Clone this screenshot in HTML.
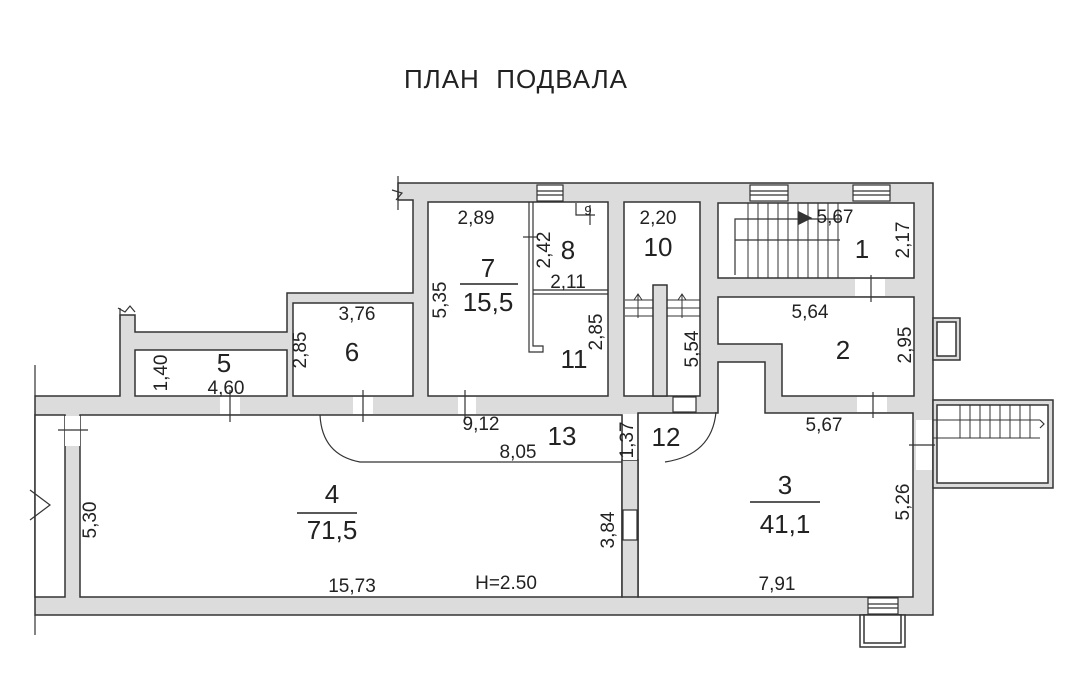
<!DOCTYPE html>
<html><head><meta charset="utf-8"><style>
body{margin:0;background:#fff;}
svg{display:block;font-family:"Liberation Sans",sans-serif;}
</style></head><body>
<svg width="1080" height="687" viewBox="0 0 1080 687" xmlns="http://www.w3.org/2000/svg">
<rect width="1080" height="687" fill="#fff"/>
<text x="516" y="88" font-size="26" text-anchor="middle" fill="#222" letter-spacing="1" xml:space="preserve">ПЛАН  ПОДВАЛА</text>
<g stroke="#333" stroke-width="1.5">
<path d="M398 183 H933 V615 H35 V396 H120 V315 H135 V332 H287 V293 H413 V200 H398 Z" fill="#dcdcdc"/>
<rect x="933" y="318" width="27" height="42" fill="#dcdcdc"/>
<rect x="937" y="322" width="19" height="34" fill="#fff"/>
<rect x="933" y="400" width="120" height="88" fill="#dcdcdc"/>
<rect x="937" y="405" width="111" height="78" fill="#fff"/>
<rect x="860" y="615" width="45" height="32" fill="#fff"/>
<rect x="864" y="615" width="37" height="28" fill="#fff"/>
<rect x="428" y="202" width="180" height="194" fill="#fff"/>
<rect x="624" y="202" width="76" height="194" fill="#fff"/>
<rect x="653" y="285" width="14" height="111" fill="#dcdcdc"/>
<rect x="718" y="203" width="196" height="75" fill="#fff"/>
<path d="M718 297 H914 V396 H782 V344 H718 Z" fill="#fff"/>
<path d="M638 413 H718 V362 H765 V413 H913 V597 H638 Z" fill="#fff"/>
<rect x="80" y="415" width="542" height="182" fill="#fff"/>
<rect x="293" y="303" width="120" height="93" fill="#fff"/>
<rect x="135" y="350" width="152" height="46" fill="#fff"/>
<rect x="35" y="415" width="30" height="182" fill="#fff"/>
<rect x="622" y="460" width="16" height="137" fill="#dcdcdc"/>
</g>
<g stroke="#333" stroke-width="1.2" fill="#fff">
<rect x="537" y="185" width="26" height="16"/><line x1="537" y1="191" x2="563" y2="191"/><line x1="537" y1="195" x2="563" y2="195"/>
<rect x="750" y="185" width="38" height="16"/><line x1="750" y1="191" x2="788" y2="191"/><line x1="750" y1="195" x2="788" y2="195"/>
<rect x="853" y="185" width="37" height="16"/><line x1="853" y1="191" x2="890" y2="191"/><line x1="853" y1="195" x2="890" y2="195"/>
<rect x="855" y="279" width="30" height="17" stroke="none"/><line x1="871" y1="275" x2="871" y2="302"/>
<rect x="857" y="397" width="30" height="15" stroke="none"/><line x1="873" y1="392" x2="873" y2="418"/>
<rect x="673" y="397" width="23" height="15"/>
<rect x="916" y="420" width="16" height="50" stroke="none"/><line x1="909" y1="445" x2="935" y2="445"/>
<rect x="868" y="598" width="30" height="16"/><line x1="868" y1="604" x2="898" y2="604"/><line x1="868" y1="608" x2="898" y2="608"/>
<rect x="458" y="397" width="18" height="17" stroke="none"/><line x1="465" y1="390" x2="465" y2="420"/>
<rect x="353" y="397" width="20" height="17" stroke="none"/><line x1="363" y1="390" x2="363" y2="422"/>
<rect x="220" y="397" width="20" height="17" stroke="none"/><line x1="230" y1="390" x2="230" y2="422"/>
<rect x="65" y="416" width="15" height="30" stroke="none"/><line x1="58" y1="430" x2="88" y2="430"/>
<rect x="623" y="510" width="14" height="30"/>
<rect x="623" y="414" width="14" height="46" stroke="none"/>
</g>
<g stroke="#333" stroke-width="1.2" fill="none">
<line x1="638" y1="413" x2="638" y2="460"/>
<path d="M320 415 Q322 455 360 462 H622"/>
<path d="M716 412 Q712 455 665 462"/>
<path d="M529 202 V352 H543 V346 H533 V202"/>
<line x1="533" y1="290" x2="608" y2="290"/><line x1="533" y1="294" x2="608" y2="294"/>
<line x1="523" y1="237" x2="538" y2="237"/>
<path d="M576 203 V215 H595"/><line x1="590" y1="205" x2="590" y2="225"/>
<path d="M735 275 V219 H840"/><path d="M735 240 H840"/>
<g stroke-width="1">
<line x1="748" y1="203" x2="748" y2="278"/><line x1="758" y1="203" x2="758" y2="278"/><line x1="768" y1="203" x2="768" y2="278"/><line x1="778" y1="203" x2="778" y2="278"/><line x1="788" y1="203" x2="788" y2="278"/><line x1="798" y1="203" x2="798" y2="278"/><line x1="808" y1="203" x2="808" y2="278"/><line x1="818" y1="203" x2="818" y2="278"/><line x1="828" y1="203" x2="828" y2="278"/><line x1="838" y1="203" x2="838" y2="278"/>
<line x1="625" y1="300" x2="653" y2="300"/><line x1="625" y1="308" x2="653" y2="308"/><line x1="625" y1="316" x2="653" y2="316"/>
<line x1="667" y1="300" x2="700" y2="300"/><line x1="667" y1="308" x2="700" y2="308"/><line x1="667" y1="316" x2="700" y2="316"/>
<path d="M638 318 V294 M634 300 L638 294 L642 300"/><path d="M682 318 V294 M678 300 L682 294 L686 300"/>
<line x1="933" y1="420" x2="1040" y2="420"/><line x1="933" y1="438" x2="1040" y2="438"/>
<line x1="960" y1="405" x2="960" y2="438"/><line x1="970" y1="405" x2="970" y2="438"/><line x1="980" y1="405" x2="980" y2="438"/><line x1="990" y1="405" x2="990" y2="438"/><line x1="1000" y1="405" x2="1000" y2="438"/><line x1="1010" y1="405" x2="1010" y2="438"/><line x1="1020" y1="405" x2="1020" y2="438"/><line x1="1030" y1="405" x2="1030" y2="438"/>
</g>
<path d="M799 212 L811 218 L799 224 Z" fill="#333"/>
<path d="M398 176 V210 M392 190 L402 193 L396 200"/>
<path d="M118 308 L125 312 L130 306 L135 312 M120 308 V320"/>
<path d="M35 365 V396 M35 615 V635 M30 490 L50 505 L30 520"/>
<path d="M1040 420 L1044 424 L1040 428"/>
</g>
<g fill="#222" font-size="19" text-anchor="middle">
<text x="476" y="224">2,89</text>
<text x="835" y="223">5,67</text>
<text x="658" y="224">2,20</text>
<text x="568" y="288">2,11</text>
<text x="357" y="320">3,76</text>
<text x="810" y="318">5,64</text>
<text x="226" y="394">4,60</text>
<text x="481" y="430">9,12</text>
<text x="518" y="458">8,05</text>
<text x="824" y="431">5,67</text>
<text x="352" y="592">15,73</text>
<text x="506" y="589">H=2.50</text>
<text x="777" y="590">7,91</text>
<text transform="translate(446 300) rotate(-90)">5,35</text>
<text transform="translate(550 250) rotate(-90)">2,42</text>
<text transform="translate(602 332) rotate(-90)">2,85</text>
<text transform="translate(306 350) rotate(-90)">2,85</text>
<text transform="translate(167 373) rotate(-90)">1,40</text>
<text transform="translate(698 349) rotate(-90)">5,54</text>
<text transform="translate(909 240) rotate(-90)">2,17</text>
<text transform="translate(911 345) rotate(-90)">2,95</text>
<text transform="translate(633 440) rotate(-90)">1,37</text>
<text transform="translate(614 530) rotate(-90)">3,84</text>
<text transform="translate(96 520) rotate(-90)">5,30</text>
<text transform="translate(909 502) rotate(-90)">5,26</text>
<text x="588" y="215" font-size="13">9</text>
</g>
<g fill="#222" font-size="26" text-anchor="middle">
<text x="488" y="277">7</text><text x="488" y="311">15,5</text>
<text x="568" y="259">8</text>
<text x="658" y="256">10</text>
<text x="862" y="258">1</text>
<text x="352" y="361">6</text>
<text x="224" y="372">5</text>
<text x="574" y="368">11</text>
<text x="843" y="359">2</text>
<text x="562" y="445">13</text>
<text x="666" y="446">12</text>
<text x="785" y="494">3</text><text x="785" y="533">41,1</text>
<text x="332" y="503">4</text><text x="332" y="539">71,5</text>
</g>
<g stroke="#222" stroke-width="1.5">
<line x1="460" y1="284" x2="518" y2="284"/>
<line x1="750" y1="502" x2="820" y2="502"/>
<line x1="297" y1="513" x2="357" y2="513"/>
</g>
</svg>
</body></html>
